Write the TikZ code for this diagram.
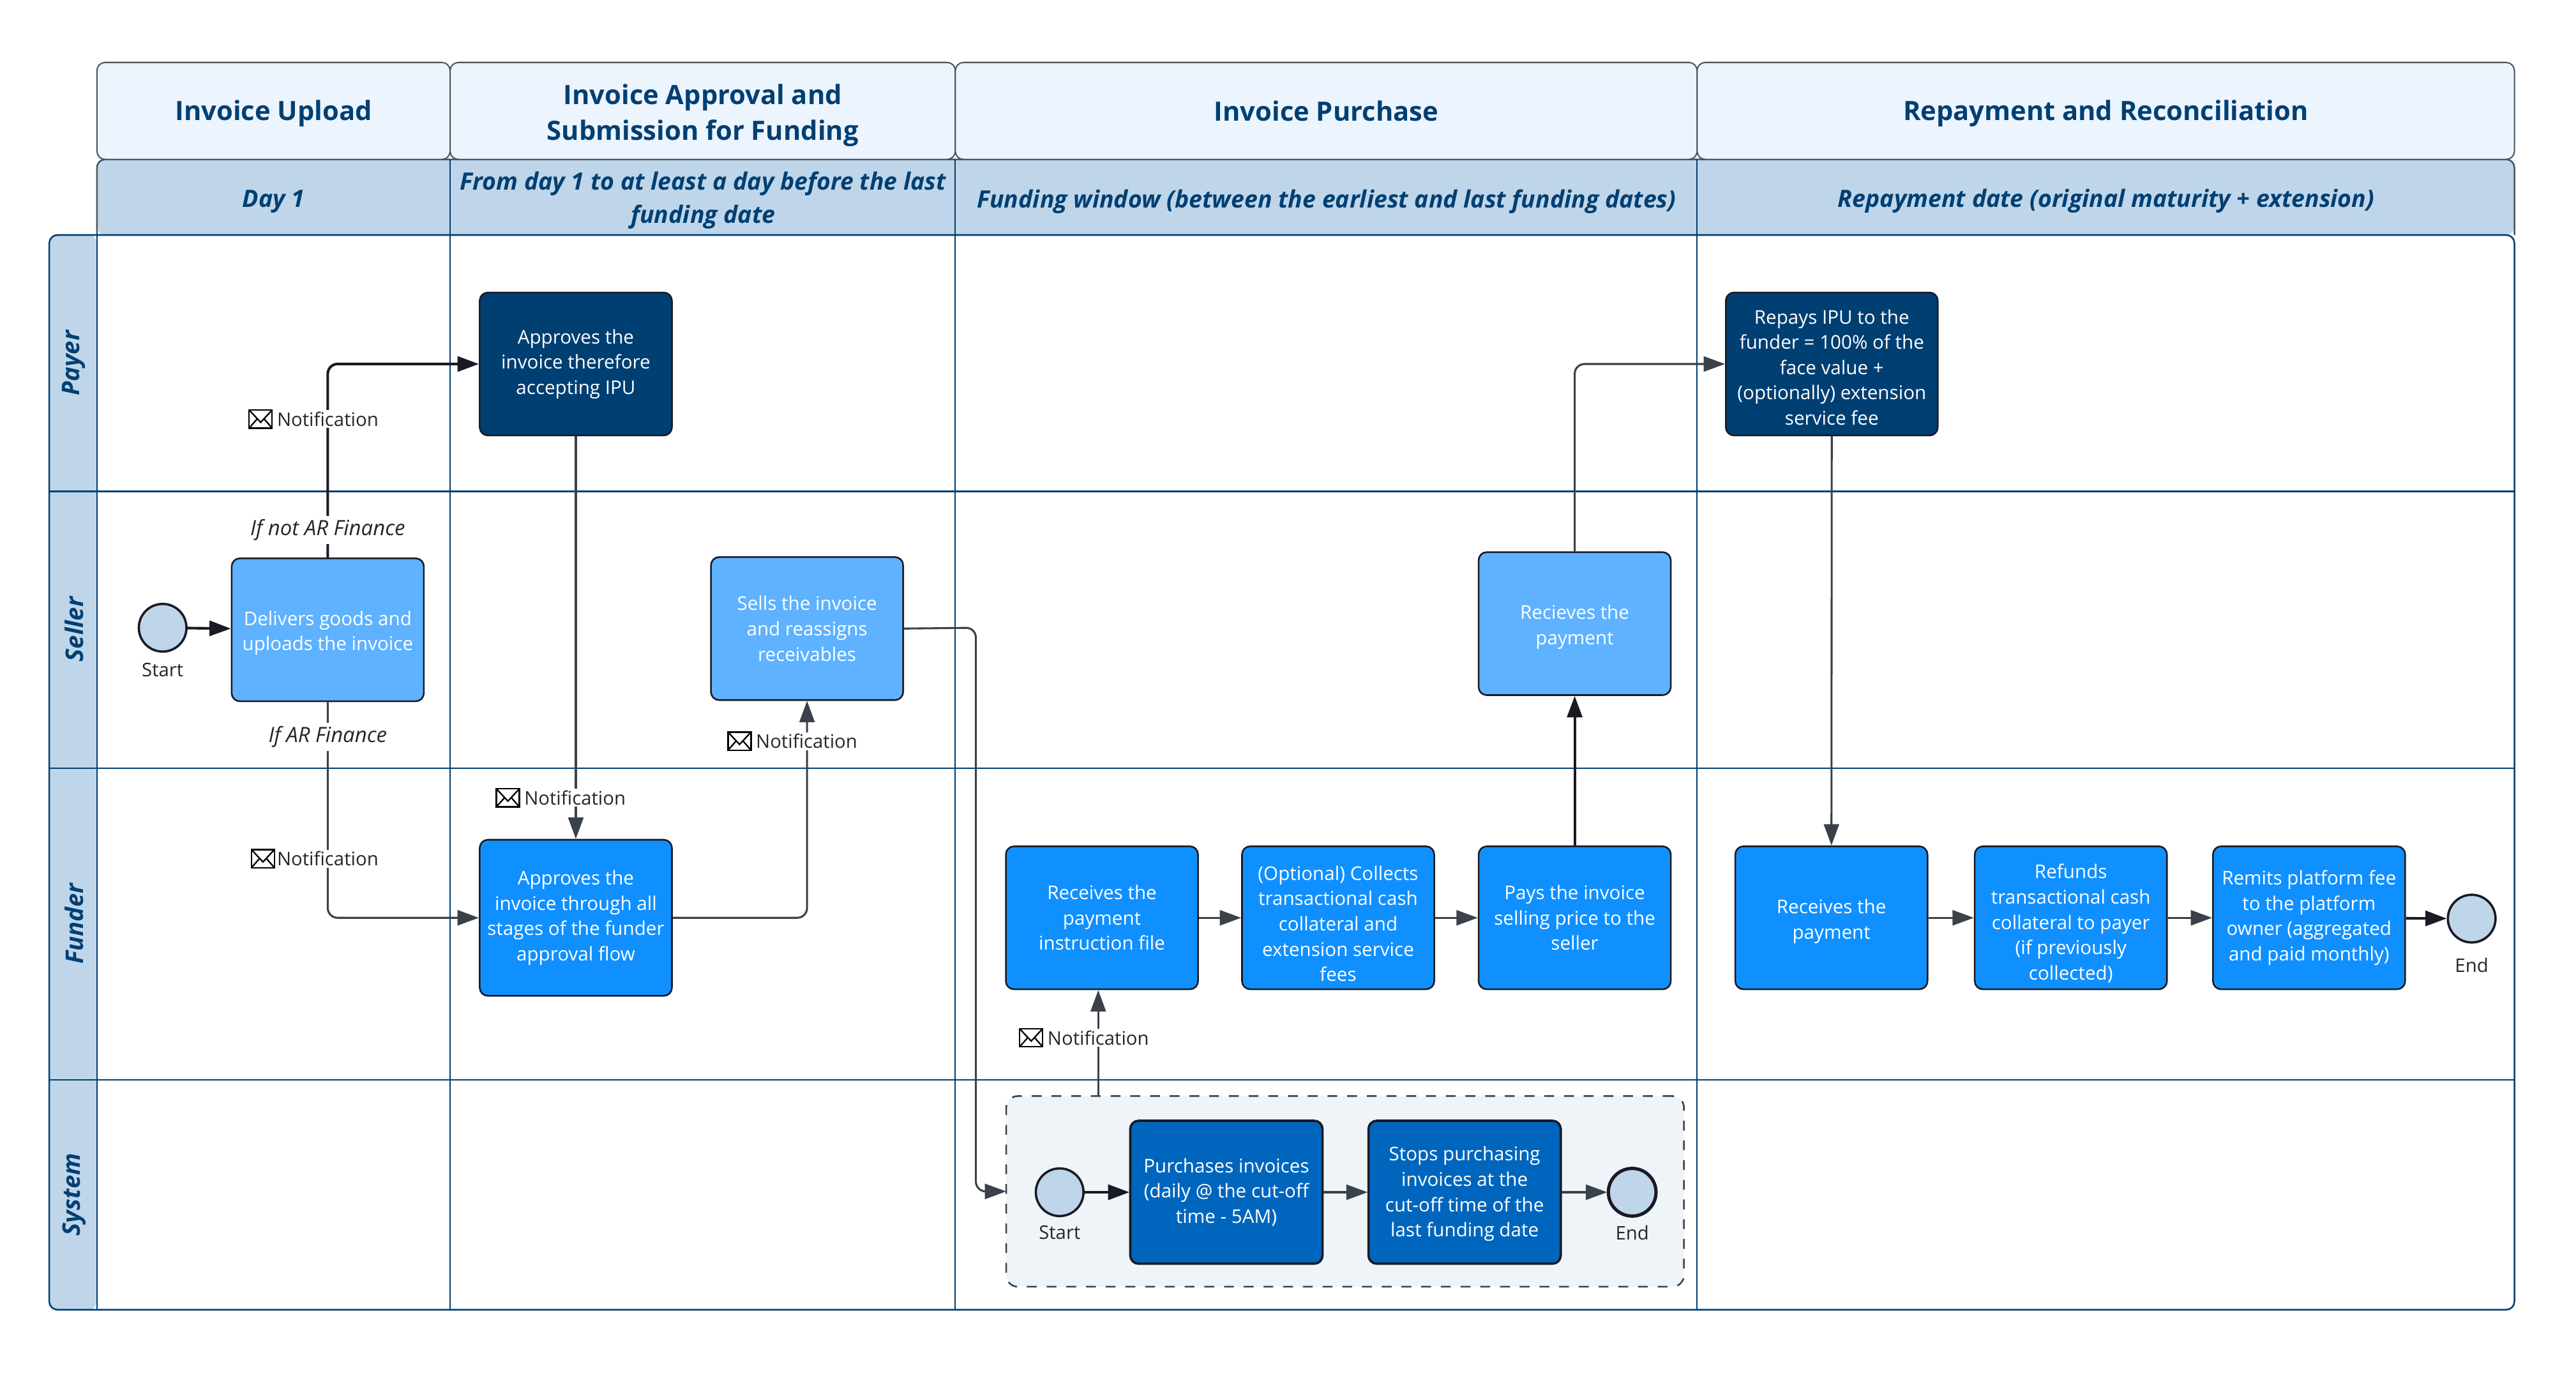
\documentclass[tikz,border=0pt]{standalone}
\usepackage{fontspec}
\setmainfont{Open Sans}
\usetikzlibrary{arrows.meta}
\definecolor{navy}{HTML}{003F72}
\definecolor{headfill}{HTML}{ECF4FE}
\definecolor{bandfill}{HTML}{BFD6EA}
\definecolor{frameline}{HTML}{4A5560}
\definecolor{flowline}{HTML}{3A414A}
\definecolor{darkflow}{HTML}{1A1A24}
\definecolor{payerblue}{HTML}{003F72}
\definecolor{sysblue}{HTML}{0066BD}
\definecolor{fundblue}{HTML}{1090FF}
\definecolor{sellblue}{HTML}{5EB2FF}
\definecolor{groupfill}{HTML}{EFF4F9}
\newcommand{\droptop}[1]{\rule{0pt}{#1}}
\tikzset{
  headcell/.style={draw=frameline,fill=headfill,rounded corners=2.5pt,line width=.4pt,
    minimum height=29.5pt,outer sep=0pt,inner sep=0pt,align=center,text=navy,
    font=\fontsize{8.1}{11}\selectfont\bfseries},
  bandtext/.style={inner sep=0pt,align=center,text=navy,
    font=\fontsize{7.28}{10.1}\selectfont\bfseries\itshape},
  lanetext/.style={bandtext,font=\fontsize{7.4}{10}\selectfont\bfseries\itshape},
  taskbox/.style={draw=darkflow,rounded corners=2.5pt,line width=.5pt,minimum width=58.5pt,
    minimum height=43.5pt,outer sep=.25pt,inner sep=1pt,align=center,text=white,
    font=\fontsize{5.75}{7.7}\selectfont},
  payerbox/.style={taskbox,fill=payerblue},
  sellbox/.style={taskbox,fill=sellblue},
  fundbox/.style={taskbox,fill=fundblue},
  sysbox/.style={taskbox,fill=sysblue,line width=.7pt},
  event/.style={circle,draw=darkflow,fill=bandfill,line width=.7pt,minimum size=14.5pt,
    inner sep=0pt,outer sep=.35pt},
  endevent/.style={event,line width=1pt},
  smalltext/.style={inner sep=.5pt,font=\fontsize{5.7}{7.7}\selectfont,text=black!85},
  iftext/.style={smalltext,fill=white,inner sep=1pt,font=\fontsize{6.4}{8}\selectfont\itshape},
  notif/.style={smalltext,fill=white},
  flow/.style={draw=flowline,line width=.6pt,rounded corners=3pt,
    -{Triangle[length=6.5pt,width=4.6pt]}},
  darkline/.style={flow,draw=darkflow,line width=.8pt},
  mailicon/.pic={
    \draw[black,line width=.45pt,fill=white] (-7,-5.5) rectangle (7,5.5);
    \draw[black,line width=.45pt] (-7,-5.5)--(0,2)--(7,-5.5) (-7,5.5)--(-2,-.2) (7,5.5)--(2,-.2);
  }
}
\begin{document}
\begin{tikzpicture}[x=.5pt,y=-.5pt]
\useasboundingbox (0,0) rectangle (1568,839.4);
\fill[white] (0,0) rectangle (1568,839.4);

\fill[bandfill,rounded corners=2.5pt] (59,143)--(59,97)--(1530.5,97)--(1530.5,143)--cycle;
\fill[bandfill,rounded corners=2.5pt] (59,143)--(30,143)--(30,797)--(59,797)--cycle;
\draw[frameline,line width=.5pt,rounded corners=2.5pt] (59,143)--(59,97)--(1530.5,97)--(1530.5,143);
\draw[navy,line width=.5pt,rounded corners=2.5pt] (59,143)--(30,143)--(30,797)--(1530.5,797)--(1530.5,143)--cycle;
\foreach \rowy in {299,467.5,657}
  \draw[navy,line width=.45pt] (30,\rowy)--(1530.5,\rowy);
\draw[navy,line width=.45pt] (59,143)--(59,797);
\foreach \colx in {274,581.5,1033}
  \draw[navy,line width=.4pt] (\colx,97)--(\colx,797);

\node[headcell,minimum width=107.5pt] (headupload) at (166.5,67.5) {\droptop{7.6pt}Invoice Upload};
\node[headcell,minimum width=153.75pt] (headapprove) at (427.75,67.5) {\droptop{8.9pt}Invoice Approval and\\Submission for Funding};
\node[headcell,minimum width=225.75pt] (headpurchase) at (807.25,67.5) {Invoice Purchase};
\node[headcell,minimum width=248.75pt] (headrepay) at (1281.75,67.5) {\droptop{7.6pt}Repayment and Reconciliation};

\node[bandtext] (bandday) at (166.5,122.5) {Day 1};
\node[bandtext] (bandfrom) at (428,122) {From day 1 to at least a day before the last\\funding date};
\node[bandtext] (bandwindow) at (807.5,122.5) {Funding window (between the earliest and last funding dates)};
\node[bandtext] (bandrepay) at (1282,122.5) {Repayment date (original maturity + extension)};

\node[lanetext,rotate=90] (lanepayer) at (45,221) {Payer};
\node[lanetext,rotate=90] (laneseller) at (45,383) {Seller};
\node[lanetext,rotate=90] (lanefunder) at (45,562) {Funder};
\node[lanetext,rotate=90] (lanesystem) at (45,727) {System};

\node[draw=flowline,fill=groupfill,dashed,rounded corners=3.5pt,line width=.5pt,minimum width=206.25pt,
  minimum height=58pt,outer sep=0pt] (sysgroup) at (818.75,725) {};

\node[event] (start) at (99,382) {};
\node[smalltext] (startlbl) at (99,407.5) {Start};
\node[sellbox] (deliver) at (199.5,383.25) {\droptop{6.4pt}Delivers goods and\\uploads the invoice};
\node[payerbox] (payerok) at (350.5,221.5) {Approves the\\invoice therefore\\accepting IPU};
\node[fundbox,minimum height=47.5pt] (fundok) at (350.5,558.5) {Approves the\\invoice through all\\stages of the funder\\approval flow};
\node[sellbox] (sells) at (491.25,382.5) {Sells the invoice\\and reassigns\\receivables};
\node[fundbox] (instr) at (670.75,558.5) {Receives the\\payment\\instruction file};
\node[fundbox] (collect) at (814.5,558.5) {\droptop{7.9pt}(Optional) Collects\\transactional cash\\collateral and\\extension service\\fees};
\node[fundbox] (pays) at (958.5,558.5) {Pays the invoice\\selling price to the\\seller};
\node[sellbox] (gotpay) at (958.5,379.5) {\droptop{6.4pt}Recieves the\\payment};
\node[payerbox,minimum width=64.5pt] (repay) at (1115,221.5) {\droptop{6.4pt}Repays IPU to the\\funder = 100\% of the\\face value +\\(optionally) extension\\service fee};
\node[fundbox] (received) at (1114.75,558.5) {\droptop{6.6pt}Receives the\\payment};
\node[fundbox] (refunds) at (1260.5,558.5) {\droptop{7.9pt}Refunds\\transactional cash\\collateral to payer\\(if previously\\collected)};
\node[fundbox] (remits) at (1405.5,558.5) {Remits platform fee\\to the platform\\owner (aggregated\\and paid monthly)};
\node[event] (endfund) at (1504.5,559) {};
\node[smalltext] (endfundlbl) at (1504.5,587.5) {End};

\node[event] (sysstart) at (645,725.5) {};
\node[smalltext] (sysstartlbl) at (645,750) {Start};
\node[sysbox] (purch) at (746.5,725.5) {Purchases invoices\\(daily @ the cut-off\\time - 5AM)};
\node[sysbox] (stops) at (891.5,725.5) {\droptop{5.4pt}Stops purchasing\\invoices at the\\cut-off time of the\\last funding date};
\node[endevent] (sysend) at (993.5,725.5) {};
\node[smalltext] (sysendlbl) at (993.5,750) {End};

\coordinate (sellsbend) at (594,382);
\coordinate (sysout) at (668.5,667);

\draw[darkline] (start)--(deliver);
\draw[darkline] (deliver.north) |- (payerok.west);
\draw[flow] (deliver.south) |- (fundok.west);
\draw[flow] (payerok.south)--(fundok.north);
\draw[flow] (fundok.east) -| (sells.south);
\draw[flow] (sells.east)--(sellsbend) |- (sysgroup.west);
\draw[flow] (sysout)--(sysout |- instr.south);
\draw[flow] (instr)--(collect);
\draw[flow] (collect)--(pays);
\draw[darkline] (pays)--(gotpay);
\draw[flow] (gotpay.north) |- (repay.west);
\draw[flow] (repay)--(received);
\draw[flow] (received)--(refunds);
\draw[flow] (refunds)--(remits);
\draw[darkline] (remits)--(endfund);
\draw[darkline] (sysstart)--(purch);
\draw[flow] (purch)--(stops);
\draw[flow] (stops)--(sysend);

\node[iftext] (ifnot) at (199.5,322.5) {If not AR Finance};
\node[iftext] (ifar) at (199.5,448.5) {If AR Finance};
\node[notif] (notea) at (199.5,255) {Notification};
\node[notif] (noteb) at (199.5,522.5) {Notification};
\node[notif] (notec) at (350,485.5) {Notification};
\node[notif] (noted) at (491,451) {Notification};
\node[notif] (notee) at (668.5,631.5) {Notification};
\foreach \noteid/\noteoff in {notea/-4.3,noteb/-3.6,notec/-4.3,noted/-4.3,notee/-4.3}
  \pic at ([xshift=\noteoff pt]\noteid.west) {mailicon};
\end{tikzpicture}
\end{document}
